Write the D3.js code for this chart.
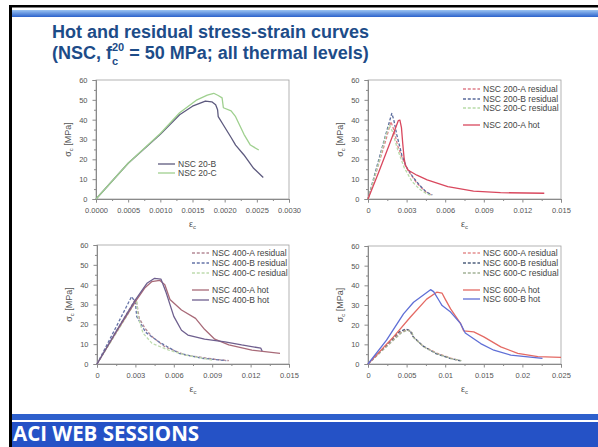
<!DOCTYPE html>
<html>
<head>
<meta charset="utf-8">
<script src="https://cdn.jsdelivr.net/npm/d3@7"></script>
<style>
  body { margin: 0; background: #fff; }
  svg { display: block; }
</style>
</head>
<body>
<div id="chart"></div>
<script>
// values: [strain, stress in MPa]
const nsc20B = [[0, 0], [0.0005, 18], [0.001, 32.6], [0.0013, 42.5], [0.0015, 46.8], [0.0017, 49.4], [0.0018, 49], [0.00186, 47.5], [0.00189, 45], [0.0019, 41.5], [0.00198, 37.3], [0.0021, 31], [0.00217, 27.2], [0.0023, 22.2], [0.00245, 15.5], [0.0026, 10.8]]
const nsc20C = [[0, 0], [0.0005, 18], [0.001, 33], [0.0013, 43.5], [0.00157, 50], [0.00173, 52.4], [0.00183, 53.3], [0.0019, 52.2], [0.00196, 51], [0.00198, 46], [0.0021, 44.4], [0.00217, 41.5], [0.0023, 32.6], [0.0024, 27.2], [0.00253, 24.7]]

const res200A = [[0, 0], [0.0008, 17], [0.0014, 30], [0.00178, 39], [0.002, 35], [0.0023, 27], [0.0027, 20], [0.0032, 13.5], [0.0038, 8], [0.0045, 3.5], [0.005, 1.8]]
const res200B = [[0, 0], [0.0008, 19], [0.0014, 33], [0.00185, 43.2], [0.002, 40], [0.00224, 32.3], [0.00263, 22.2], [0.003, 16], [0.0035, 11], [0.004, 7], [0.0045, 3.7], [0.005, 2]]
const res200C = [[0, 0], [0.0008, 17.5], [0.0013, 30], [0.00167, 37.3], [0.0019, 34], [0.0023, 25], [0.0028, 16], [0.0034, 9], [0.004, 5], [0.0046, 2.5], [0.0049, 1.8]]
const hot200A = [[0, 0], [0.0008, 13], [0.0016, 26.5], [0.0021, 35], [0.00235, 39.5], [0.00248, 39.8], [0.0026, 36], [0.0027, 28], [0.0028, 21], [0.0029, 17], [0.003, 16], [0.0031, 14.6], [0.0038, 12], [0.0046, 9.6], [0.0062, 6.2], [0.0082, 4], [0.0103, 3.2], [0.0137, 2.9]]

const res400A = [[0, 0], [0.0015, 16.5], [0.00297, 32.3], [0.0031, 31], [0.0033, 23], [0.00375, 18], [0.0043, 13.8], [0.0053, 8.7], [0.0069, 4.5], [0.0092, 2.4], [0.0103, 1.7]]
const res400B = [[0, 0], [0.0014, 17.5], [0.0027, 34], [0.003, 31], [0.0031, 24], [0.0038, 16], [0.0048, 11.3], [0.0064, 5.4], [0.0082, 2.9], [0.0101, 1.7]]
const res400C = [[0, 0], [0.0015, 15.5], [0.0031, 32.3], [0.0032, 24], [0.0036, 15.5], [0.0043, 10.4], [0.0056, 7], [0.0069, 4.5], [0.009, 2]]
const hot400A = [[0, 0], [0.0015, 16], [0.003, 31.4], [0.00375, 38.5], [0.00427, 41.5], [0.0049, 42.2], [0.0053, 40], [0.0057, 32.5], [0.0066, 27.2], [0.0077, 23], [0.0084, 17.5], [0.0092, 12.5], [0.0103, 9.6], [0.0121, 7], [0.0143, 5.4]]
const hot400B = [[0, 0], [0.0015, 16.5], [0.003, 32.3], [0.0039, 40.7], [0.0045, 43.2], [0.005, 42.8], [0.0054, 36], [0.006, 24], [0.0066, 17], [0.0071, 14.6], [0.0084, 12.5], [0.01, 11.2], [0.0113, 9.6], [0.0128, 8], [0.0129, 6.5]]

const res600A = [[0, 0], [0.0042, 16], [0.005, 17.5], [0.0056, 16.5], [0.0058, 14], [0.0072, 8.9], [0.0089, 5.6], [0.0107, 3], [0.0119, 1.8]]
const res600B = [[0, 0], [0.0041, 16.5], [0.0049, 17.8], [0.0055, 16.8], [0.0057, 14.5], [0.0071, 9.2], [0.0088, 5.3], [0.0106, 2.9], [0.012, 1.6]]
const res600C = [[0, 0], [0.0043, 15.8], [0.0051, 17.3], [0.0057, 16], [0.0059, 13.5], [0.0073, 8.5], [0.009, 5.2], [0.0108, 2.7], [0.0121, 1.7]]
const hot600A = [[0, 0], [0.0033, 13.8], [0.0055, 23.9], [0.0076, 33], [0.0089, 36.5], [0.0096, 36], [0.01, 33], [0.0107, 28], [0.012, 20.5], [0.0124, 16.8], [0.0137, 16.3], [0.015, 13.8], [0.0172, 8.7], [0.0194, 5.4], [0.022, 3.7], [0.025, 3.4]]
const hot600B = [[0, 0], [0.0024, 12.1], [0.0046, 25.5], [0.0059, 31.4], [0.0081, 37.8], [0.0085, 36.8], [0.0092, 32.3], [0.0096, 29.7], [0.0107, 26.4], [0.012, 20.5], [0.0126, 15.8], [0.0146, 10.4], [0.0163, 7], [0.0185, 4.5], [0.0226, 2.9]]

// tick labels
const xTicks20 = [0, 0.0005, 0.001, 0.0015, 0.002, 0.0025, 0.003]
const xTicks200 = [0, 0.003, 0.006, 0.009, 0.012, 0.015]
const xTicks600 = [0, 0.005, 0.01, 0.015, 0.02, 0.025]
const yTicks = [0, 10, 20, 30, 40, 50, 60]

const W = 598
const H = 447

const svg = d3
  .select('#chart')
  .append('svg')
  .attr('width', W)
  .attr('height', H)

// slide frame
const defs = svg.append('defs')
const grad = defs.append('linearGradient').attr('id', 'topband').attr('x1', 0).attr('x2', 0).attr('y1', 0).attr('y2', 1)
grad.append('stop').attr('offset', '0%').attr('stop-color', '#9cc4f2')
grad.append('stop').attr('offset', '100%').attr('stop-color', '#2b62cc')

svg.append('rect').attr('x', 9).attr('y', 5).attr('width', W - 9).attr('height', 2.5).attr('fill', '#000')
svg.append('rect').attr('x', 9).attr('y', 5).attr('width', 3).attr('height', H - 5).attr('fill', '#000')
svg.append('rect').attr('x', 12).attr('y', 10).attr('width', W - 12).attr('height', 7).attr('fill', 'url(#topband)')

svg.append('rect').attr('x', 12).attr('y', 414).attr('width', W - 12).attr('height', 6).attr('fill', '#2d5fcc')
svg.append('rect').attr('x', 12).attr('y', 422).attr('width', W - 12).attr('height', H - 422).attr('fill', '#2552c6')
svg
  .append('text')
  .text('ACI WEB SESSIONS')
  .attr('x', 13)
  .attr('y', 441)
  .attr('fill', '#fff')
  .style('font-family', '"Open Sans", sans-serif')
  .style('font-weight', 700)
  .style('font-size', '20.5px')

// title
const titleColor = '#1d4c88'
const titleFont = 'Liberation Sans, Arial, sans-serif'
svg
  .append('text')
  .text('Hot and residual stress-strain curves')
  .attr('x', 52)
  .attr('y', 38)
  .attr('fill', titleColor)
  .style('font-family', titleFont)
  .style('font-weight', 700)
  .style('font-size', '18px')

const t2 = svg
  .append('text')
  .attr('x', 52)
  .attr('y', 59)
  .attr('fill', titleColor)
  .style('font-family', titleFont)
  .style('font-weight', 700)
  .style('font-size', '18px')
  .text('(NSC, f')
const w2 = t2.node().getComputedTextLength()
const small = (txt, x, y) =>
  svg
    .append('text')
    .text(txt)
    .attr('x', x)
    .attr('y', y)
    .attr('fill', titleColor)
    .style('font-family', titleFont)
    .style('font-weight', 700)
    .style('font-size', '11px')
small('c', 52 + w2, 65)
const sup = small('20', 52 + w2, 51)
const wSup = sup.node().getComputedTextLength()
svg
  .append('text')
  .text('= 50 MPa; all thermal levels)')
  .attr('x', 52 + w2 + wSup + 5)
  .attr('y', 59)
  .attr('fill', titleColor)
  .style('font-family', titleFont)
  .style('font-weight', 700)
  .style('font-size', '18px')

// panels
const panels = [
  {
    left: 96, top: 80, width: 193, height: 119, xMax: 0.003, xTicks: xTicks20, fmt: d3.format('.4f'),
    legend: { x: 62, rows: [84, 93] },
    series: [
      { data: nsc20B, label: 'NSC 20-B', color: '#5d5a7e' },
      { data: nsc20C, label: 'NSC 20-C', color: '#9fd08f' }
    ]
  },
  {
    left: 368, top: 80, width: 193, height: 119, xMax: 0.015, xTicks: xTicks200, fmt: d => String(d),
    legend: { x: 95, rows: [9, 19, 28, 45] },
    series: [
      { data: res200A, label: 'NSC 200-A residual', color: '#e07f8a', dash: true },
      { data: res200B, label: 'NSC 200-B residual', color: '#5a6b9c', dash: true },
      { data: res200C, label: 'NSC 200-C residual', color: '#b8dba8', dash: true },
      { data: hot200A, label: 'NSC 200-A hot', color: '#d9485e' }
    ]
  },
  {
    left: 97, top: 245, width: 192, height: 119, xMax: 0.015, xTicks: xTicks200, fmt: d => String(d),
    legend: { x: 95, rows: [8, 18, 28, 45, 55] },
    series: [
      { data: res400A, label: 'NSC 400-A residual', color: '#b58a96', dash: true },
      { data: res400B, label: 'NSC 400-B residual', color: '#6674a8', dash: true },
      { data: res400C, label: 'NSC 400-C residual', color: '#bfdcae', dash: true },
      { data: hot400A, label: 'NSC 400-A hot', color: '#a86a78' },
      { data: hot400B, label: 'NSC 400-B hot', color: '#6e5f8e' }
    ]
  },
  {
    left: 368, top: 246, width: 193, height: 118, xMax: 0.025, xTicks: xTicks600, fmt: d => String(d),
    legend: { x: 95, rows: [7, 17, 27, 44, 53] },
    series: [
      { data: res600A, label: 'NSC 600-A residual', color: '#e58f8f', dash: true },
      { data: res600B, label: 'NSC 600-B residual', color: '#4f607e', dash: true },
      { data: res600C, label: 'NSC 600-C residual', color: '#a2b296', dash: true },
      { data: hot600A, label: 'NSC 600-A hot', color: '#e46a64' },
      { data: hot600B, label: 'NSC 600-B hot', color: '#5f6fd6' }
    ]
  }
]

const axisFont = 'Liberation Sans, Arial, sans-serif'

panels.forEach(function(p) {
  const g = svg.append('g').attr('transform', 'translate(' + p.left + ',' + p.top + ')')
  const x = d3.scaleLinear().domain([0, p.xMax]).range([0, p.width])
  const y = d3.scaleLinear().domain([0, 60]).range([p.height, 0])

  // frame
  g.append('rect')
    .attr('width', p.width)
    .attr('height', p.height)
    .attr('fill', 'none')
    .attr('stroke', '#a0a0a0')
    .attr('stroke-width', 0.8)

  // minor ticks
  const xStep = p.xTicks[1] - p.xTicks[0]
  const xMinor = p.xTicks.slice(0, -1).map(d => d + xStep / 2)
  g.append('g')
    .attr('transform', 'translate(0,' + p.height + ')')
    .call(d3.axisBottom(x).tickValues(xMinor).tickSize(2).tickFormat(''))
  g.append('g')
    .call(d3.axisLeft(y).tickValues(d3.range(5, 60, 10)).tickSize(2).tickFormat(''))

  g.append('g')
    .attr('transform', 'translate(0,' + p.height + ')')
    .call(d3.axisBottom(x).tickValues(p.xTicks).tickSize(3.5).tickPadding(5).tickFormat(p.fmt))
  g.append('g')
    .call(d3.axisLeft(y).tickValues(yTicks).tickSize(3.5).tickPadding(5))

  g.selectAll('.domain').attr('stroke', '#8a8a8a')
  g.selectAll('.tick line').attr('stroke', '#8a8a8a')
  g.selectAll('.tick text')
    .attr('fill', '#555')
    .style('font-family', axisFont)
    .style('font-size', '7.5px')

  // axis titles
  const xl = g.append('text')
    .attr('x', p.width / 2)
    .attr('y', p.height + 28)
    .attr('text-anchor', 'middle')
    .attr('fill', '#555')
    .style('font-family', axisFont)
    .style('font-size', '9px')
  xl.append('tspan').text('ε')
  xl.append('tspan').text('c').attr('dy', 2).style('font-size', '6px')

  const yl = g.append('text')
    .attr('transform', 'translate(-25,' + p.height / 2 + ') rotate(-90)')
    .attr('text-anchor', 'middle')
    .attr('fill', '#555')
    .style('font-family', axisFont)
    .style('font-size', '9px')
  yl.append('tspan').text('σ')
  yl.append('tspan').text('c').attr('dy', 2).style('font-size', '6px')
  yl.append('tspan').text(' [MPa]').attr('dy', -2)

  // curves
  const line = d3.line().x(d => x(d[0])).y(d => y(d[1]))
  g.selectAll('path.curve')
    .data(p.series)
    .enter()
    .append('path')
    .attr('class', 'curve')
    .attr('d', d => line(d.data))
    .attr('fill', 'none')
    .attr('stroke', d => d.color)
    .attr('stroke-width', 1.3)
    .attr('stroke-linejoin', 'round')
    .attr('stroke-dasharray', d => (d.dash ? '3,1.8' : null))

  // legend
  const lg = g.selectAll('g.leg')
    .data(p.series)
    .enter()
    .append('g')
    .attr('class', 'leg')
    .attr('transform', (d, i) => 'translate(' + p.legend.x + ',' + p.legend.rows[i] + ')')
  lg.append('line')
    .attr('x1', 0)
    .attr('x2', 17)
    .attr('stroke', d => d.color)
    .attr('stroke-width', 1.3)
    .attr('stroke-dasharray', d => (d.dash ? '3,1.8' : null))
  lg.append('text')
    .text(d => d.label)
    .attr('x', 20)
    .attr('dy', '0.35em')
    .attr('fill', '#444')
    .style('font-family', axisFont)
    .style('font-size', '8.5px')
})
</script>
</body>
</html>
